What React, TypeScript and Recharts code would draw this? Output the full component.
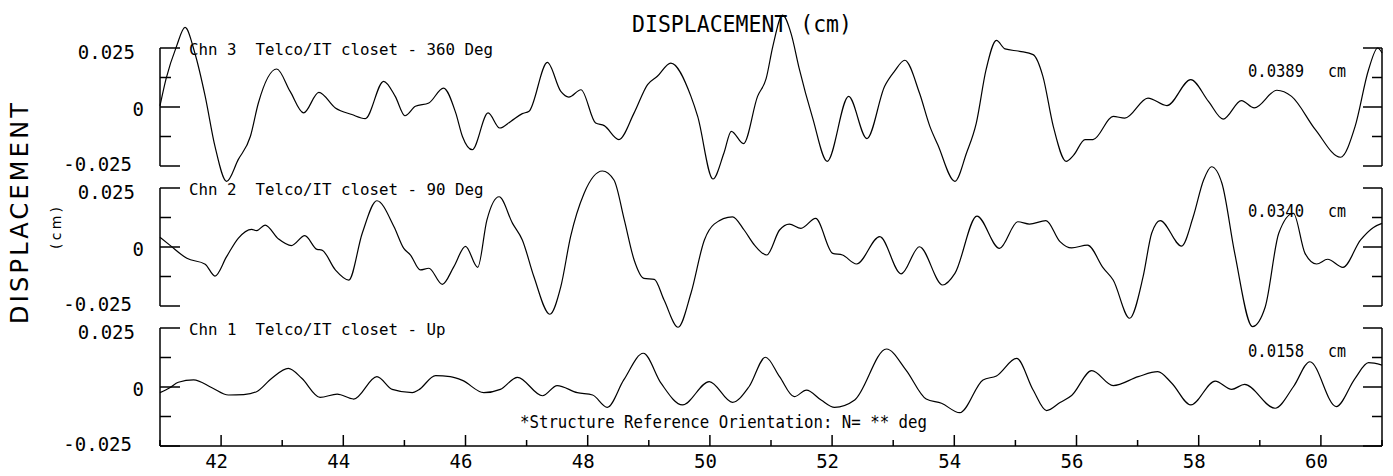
import React from 'react';
import { LineChart, Line, XAxis, YAxis } from 'recharts';

// [time (s), displacement (cm)]
const chn3 = [
  [41.0, 0.0005], [41.1, 0.012], [41.27, 0.0257], [41.41, 0.0337], [41.57, 0.0229], [41.74, 0.0045],
  [41.9, -0.0167], [42.09, -0.0315], [42.28, -0.0223], [42.48, -0.0124], [42.61, 0.0017], [42.91, 0.0161],
  [43.13, 0.0066], [43.35, -0.0025], [43.6, 0.0062], [43.87, -0.0004], [44.14, -0.0032], [44.36, -0.0049],
  [44.66, 0.0109], [44.85, 0.0045], [45.01, -0.0037], [45.18, 0.0003], [45.4, 0.0017], [45.64, 0.008],
  [45.84, -0.0025], [45.95, -0.0125], [46.11, -0.0181], [46.37, -0.0025], [46.56, -0.0089], [46.74, -0.0061],
  [46.93, -0.0028], [47.04, -0.0018], [47.34, 0.0189], [47.56, 0.0066], [47.69, 0.0042], [47.89, 0.0073],
  [48.13, -0.0068], [48.27, -0.0079], [48.51, -0.0138], [48.76, -0.0025], [48.98, 0.0095], [49.14, 0.013],
  [49.36, 0.0186], [49.69, 0.0045], [49.8, -0.004], [50.05, -0.0305], [50.23, -0.0195], [50.35, -0.0103],
  [50.55, -0.0155], [50.78, 0.0045], [50.92, 0.012], [51.03, 0.0257], [51.19, 0.0389], [51.33, 0.031],
  [51.46, 0.0165], [51.68, -0.0045], [51.92, -0.023], [52.27, 0.0045], [52.57, -0.0134], [52.86, 0.0088],
  [53.02, 0.0151], [53.19, 0.0198], [53.43, 0.0059], [53.6, -0.0082], [53.73, -0.016], [54.01, -0.0315],
  [54.2, -0.0195], [54.36, -0.0068], [54.52, 0.0158], [54.69, 0.0282], [54.83, 0.0246], [55.07, 0.0236],
  [55.29, 0.0222], [55.45, 0.013], [55.62, -0.0082], [55.83, -0.023], [55.95, -0.0205], [56.14, -0.0138],
  [56.27, -0.0138], [56.6, -0.004], [56.79, -0.0047], [57.17, 0.0038], [57.48, 0.0006], [57.87, 0.0116],
  [58.16, 0.0024], [58.4, -0.0051], [58.7, 0.0027], [58.91, -0.0004], [59.28, 0.0071], [59.52, 0.0045],
  [59.91, -0.0096], [60.32, -0.0213], [60.56, -0.0082], [60.78, 0.0158], [60.93, 0.025], [61.0, 0.0229],
];

const chn2 = [
  [41.0, 0.0041], [41.16, 0.0008], [41.44, -0.0048], [41.74, -0.0073], [41.9, -0.0123], [42.09, -0.0041],
  [42.28, 0.0037], [42.5, 0.0075], [42.58, 0.0069], [42.72, 0.0093], [42.94, 0.0034], [43.15, 0.0006],
  [43.37, 0.0048], [43.57, -0.001], [43.65, -0.0013], [43.87, -0.0097], [44.09, -0.014], [44.31, 0.0058],
  [44.55, 0.0196], [44.83, 0.0086], [44.99, -0.0006], [45.1, -0.0034], [45.26, -0.0097], [45.4, -0.009],
  [45.62, -0.0158], [45.81, -0.0083], [46.0, 0.0003], [46.2, -0.0086], [46.35, 0.0114], [46.55, 0.0213],
  [46.77, 0.01], [46.93, 0.003], [47.12, -0.0126], [47.38, -0.0285], [47.56, -0.0168], [47.72, 0.0044],
  [47.94, 0.0227], [48.24, 0.0322], [48.43, 0.0284], [48.6, 0.0114], [48.76, -0.0055], [48.92, -0.0133],
  [49.09, -0.0137], [49.25, -0.0225], [49.48, -0.034], [49.69, -0.0196], [49.91, 0.003], [50.07, 0.0097],
  [50.37, 0.0128], [50.56, 0.0072], [50.73, 0.0008], [50.93, -0.0034], [51.14, 0.0072], [51.3, 0.0097],
  [51.49, 0.0079], [51.73, 0.0121], [52.01, -0.0027], [52.17, -0.0034], [52.4, -0.0072], [52.78, 0.0044],
  [53.13, -0.0114], [53.43, 0.0001], [53.81, -0.0161], [54.01, -0.0112], [54.37, 0.0131], [54.74, -0.0006],
  [55.04, 0.0107], [55.23, 0.0097], [55.5, 0.0112], [55.73, 0.0023], [55.92, -0.0004], [56.18, 0.0008],
  [56.44, -0.009], [56.6, -0.014], [56.87, -0.0302], [57.09, -0.0126], [57.23, 0.0058], [57.37, 0.0112],
  [57.72, 0.0004], [57.91, 0.0128], [58.08, 0.0284], [58.21, 0.034], [58.38, 0.027], [58.59, -0.0027],
  [58.88, -0.0337], [59.09, -0.0253], [59.31, 0.0058], [59.55, 0.0143], [59.74, -0.0027], [59.93, -0.0072],
  [60.11, -0.0052], [60.36, -0.0086], [60.65, 0.003], [60.86, 0.0083], [61.0, 0.01],
];

const chn1 = [
  [41.0, -0.0024], [41.16, -0.0003], [41.3, 0.002], [41.55, 0.003], [41.85, -0.0003], [42.12, -0.0034],
  [42.37, -0.0032], [42.58, -0.002], [42.83, 0.0037], [43.1, 0.0079], [43.32, 0.0037], [43.62, -0.0044],
  [43.9, -0.003], [44.17, -0.0051], [44.55, 0.0044], [44.8, -0.001], [45.13, -0.0024], [45.23, -0.0013],
  [45.51, 0.0048], [45.75, 0.0044], [45.95, 0.0028], [46.3, -0.0024], [46.57, -0.001], [46.85, 0.0041],
  [47.26, -0.0037], [47.5, 0.0006], [47.83, -0.0024], [48.08, -0.0034], [48.32, -0.0086], [48.59, 0.003],
  [48.91, 0.0143], [49.2, 0.0016], [49.55, -0.0076], [49.99, 0.0023], [50.37, -0.0065], [50.64, 0.0001],
  [50.91, 0.0126], [51.14, 0.0044], [51.38, -0.0041], [51.58, -0.0013], [51.82, -0.0055], [52.04, -0.0086],
  [52.37, -0.0055], [52.89, 0.0161], [53.21, 0.0072], [53.54, -0.0051], [53.79, -0.0069], [54.09, -0.0109],
  [54.47, 0.003], [54.69, 0.0047], [55.02, 0.0121], [55.29, -0.0013], [55.51, -0.01], [55.73, -0.0066],
  [55.92, -0.0036], [56.25, 0.0069], [56.6, 0.0006], [57.01, 0.0044], [57.33, 0.0065], [57.56, 0.0016],
  [57.87, -0.0076], [58.27, 0.0025], [58.54, -0.001], [58.75, 0.0011], [59.25, -0.009], [59.55, 0.0001],
  [59.82, 0.0107], [60.25, -0.0083], [60.56, 0.0037], [60.78, 0.0103], [61.0, 0.0093],
];

const channelLabels = [
  'Chn 3  Telco/IT closet - 360 Deg',
  'Chn 2  Telco/IT closet - 90 Deg',
  'Chn 1  Telco/IT closet - Up',
];
const peakLabels = ['0.0389', '0.0340', '0.0158'];
const yTicks = [-0.025, -0.0125, 0, 0.0125, 0.025];
const xTicks = [41, 42, 43, 44, 45, 46, 47, 48, 49, 50, 51, 52, 53, 54, 55, 56, 57, 58, 59, 60, 61];

const W = 1393;
const H = 476;
const PLOT_LEFT = 160;
const PLOT_RIGHT = 1382;
const PANEL_H = 118;
const X_AXIS_H = 30;
const panelTops = [48, 188, 328];
const MONO = '"DejaVu Sans Mono", monospace';
const INK = '#000';

const isMajorY = (v: number) => Math.abs(v) < 1e-9 || Math.abs(Math.abs(v) - 0.025) < 1e-9;

const LeftTick = ({ x, y, payload }: any) => {
  const v = payload.value;
  const major = isMajorY(v);
  const dx = v > 0 ? -25 : v < 0 ? -28 : -16;
  const dy = v > 0 ? 11 : v < 0 ? 5 : 8.5;
  return (
    <g>
      <line x1={x} x2={x + (major ? 20 : 11)} y1={y} y2={y} stroke={INK} strokeWidth={1.5} />
      {major && (
        <text x={x + dx} y={y + dy} textAnchor="end" fontFamily={MONO} fontSize={19} fill={INK}>
          {String(v)}
        </text>
      )}
    </g>
  );
};

const RightTick = ({ x, y, payload }: any) => {
  const major = isMajorY(payload.value);
  return <line x1={x} x2={x - (major ? 19 : 10)} y1={y} y2={y} stroke={INK} strokeWidth={1.5} />;
};

const BottomTick = ({ x, y, payload }: any) => {
  const v = payload.value;
  const major = v % 2 === 0;
  return (
    <g>
      <line x1={x} x2={x} y1={y} y2={y - (major ? 11 : 6)} stroke={INK} strokeWidth={1.5} />
      {major && (
        <text x={x - 4.5} y={y + 22} textAnchor="middle" fontFamily={MONO} fontSize={19} fill={INK}>
          {v}
        </text>
      )}
    </g>
  );
};

const Panel = ({ points, top, showX }: { points: number[][]; top: number; showX: boolean }) => {
  const rows = points.map(([t, v]) => ({ t, v }));
  const bottom = H - (top + PANEL_H) - (showX ? X_AXIS_H : 0);
  return (
    <div style={{ position: 'absolute', left: 0, top: 0 }}>
      <LineChart width={W} height={H} data={rows} margin={{ top, right: 0, left: PLOT_LEFT - 60, bottom }}>
        <XAxis
          dataKey="t"
          type="number"
          domain={[41, 61]}
          ticks={xTicks}
          interval={0}
          allowDataOverflow
          hide={!showX}
          height={X_AXIS_H}
          tickSize={0}
          tickMargin={0}
          tickLine={false}
          axisLine={{ stroke: INK, strokeWidth: 1.5 }}
          tick={(p: any) => <BottomTick {...p} />}
        />
        <YAxis
          yAxisId="l"
          type="number"
          domain={[-0.025, 0.025]}
          ticks={yTicks}
          interval={0}
          allowDataOverflow
          width={60}
          tickSize={0}
          tickMargin={0}
          tickLine={false}
          axisLine={{ stroke: INK, strokeWidth: 1.5 }}
          tick={(p: any) => <LeftTick {...p} />}
        />
        <YAxis
          yAxisId="r"
          orientation="right"
          type="number"
          domain={[-0.025, 0.025]}
          ticks={yTicks}
          interval={0}
          allowDataOverflow
          width={W - PLOT_RIGHT}
          tickSize={0}
          tickMargin={0}
          tickLine={false}
          axisLine={{ stroke: INK, strokeWidth: 1.5 }}
          tick={(p: any) => <RightTick {...p} />}
        />
        <Line
          yAxisId="l"
          dataKey="v"
          type="monotone"
          stroke={INK}
          strokeWidth={1.2}
          dot={false}
          activeDot={false}
          isAnimationActive={false}
        />
      </LineChart>
    </div>
  );
};

export default function App() {
  const series = [chn3, chn2, chn1];
  return (
    <div style={{ position: 'absolute', left: 0, top: 0, width: W, height: H, background: '#fff', overflow: 'hidden' }}>
      <style>{`
        .recharts-surface { overflow: visible; }
        .recharts-wrapper [clip-path] { clip-path: none !important; }
      `}</style>
      {series.map((pts, i) => (
        <Panel key={i} points={pts} top={panelTops[i]} showX={i === series.length - 1} />
      ))}
      <svg width={W} height={H} style={{ position: 'absolute', left: 0, top: 0, pointerEvents: 'none' }}>
        <text x={632} y={32} fontFamily={MONO} fontSize={23} textLength={220} lengthAdjust="spacingAndGlyphs" fill={INK} style={{ whiteSpace: 'pre' }}>
          DISPLACEMENT (cm)
        </text>
        <text transform="translate(28 213.5) rotate(-90)" textAnchor="middle" fontFamily='"DejaVu Sans", sans-serif' fontSize={24} textLength={221} lengthAdjust="spacing" fill={INK}>
          DISPLACEMENT
        </text>
        <text transform="translate(61 228) rotate(-90)" textAnchor="middle" fontFamily='"DejaVu Sans", sans-serif' fontSize={14} textLength={42} lengthAdjust="spacing" fill={INK}>
          (cm)
        </text>
        {channelLabels.map((label, i) => (
          <text key={label} x={189} y={panelTops[i] + 7} fontFamily={MONO} fontSize={16.5} textLength={label.length * 9.5} lengthAdjust="spacingAndGlyphs" fill={INK} style={{ whiteSpace: 'pre' }}>
            {label}
          </text>
        ))}
        {peakLabels.map((val, i) => (
          <g key={val}>
            <text x={1248} y={panelTops[i] + 29} fontFamily={MONO} fontSize={17} textLength={56} lengthAdjust="spacingAndGlyphs" fill={INK}>
              {val}
            </text>
            <text x={1328} y={panelTops[i] + 29} fontFamily={MONO} fontSize={17} textLength={18} lengthAdjust="spacingAndGlyphs" fill={INK}>
              cm
            </text>
          </g>
        ))}
        <text x={520} y={428} fontFamily={MONO} fontSize={17} textLength={407} lengthAdjust="spacingAndGlyphs" fill={INK} style={{ whiteSpace: 'pre' }}>
          *Structure Reference Orientation: N= ** deg
        </text>
      </svg>
    </div>
  );
}
